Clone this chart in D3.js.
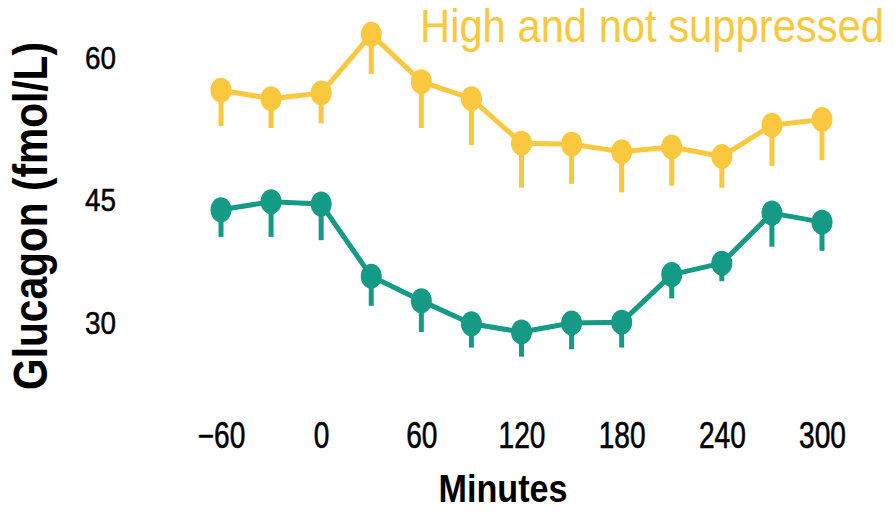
<!DOCTYPE html>
<html>
<head>
<meta charset="utf-8">
<script src="https://cdn.jsdelivr.net/npm/d3@7"></script>
<style>
  body { margin: 0; background: #fff; }
  svg { display: block; font-family: "Liberation Sans", Arial, sans-serif; }
</style>
</head>
<body>
<svg id="chart"></svg>
<script>
// minutes from start
const minutes = [-60, -30, 0, 30, 60, 90, 120, 150, 180, 210, 240, 270, 300];

// "High and not suppressed" group
const highMean = [56.6, 55.7, 56.3, 62.5, 57.5, 55.7, 51.0, 50.9, 50.1, 50.6, 49.6, 52.9, 53.5];
const highErr  = [3.8, 3.1, 3.2, 4.2, 4.9, 4.9, 4.7, 4.2, 4.3, 4.1, 3.3, 4.3, 4.3];

// other group (green)
const lowMean = [43.8, 44.8, 44.5, 35.7, 32.7, 29.9, 28.9, 30.0, 30.1, 35.9, 37.3, 43.4, 42.3];
const lowErr  = [3.3, 4.3, 4.4, 3.6, 3.8, 2.9, 3.0, 3.2, 3.1, 2.9, 2.2, 4.1, 3.5];

const xTicks = [-60, 0, 60, 120, 180, 240, 300];
const yTicks = [30, 45, 60];

const width = 895, height = 512;
const yellow = '#FAC83E';
const green = '#159A85';

const svg = d3.select('#chart')
    .attr('width', width)
    .attr('height', height);

// squeeze text horizontally, the original uses a condensed face
function condense(sel, f) {
    sel.attr('textLength', function() { return this.getComputedTextLength() * f; })
        .attr('lengthAdjust', 'spacingAndGlyphs');
}

const xScale = d3.scaleLinear()
    .domain([-60, 300])
    .range([221, 822]);

// the printed axis isn't evenly spaced, so use a piecewise scale
const yScale = d3.scaleLinear()
    .domain([30, 45, 60])
    .range([323, 200, 58]);

// x axis labels
const xAxis = d3.axisBottom(xScale)
    .tickValues(xTicks)
    .tickSize(0)
    .tickPadding(0);

svg.append('g')
    .attr('transform', 'translate(0, 448)')
    .call(xAxis)
    .call(g => g.select('.domain').remove())
    .selectAll('text')
    .attr('y', 0)
    .attr('dy', 0)
    .attr('fill', '#000')
    .attr('stroke', '#000')
    .attr('stroke-width', 0.6)
    .style('font-size', '36px')
    .style('font-family', '"Liberation Sans", Arial, sans-serif')
    .call(condense, 0.78);

// y axis labels
const yAxis = d3.axisLeft(yScale)
    .tickValues(yTicks)
    .tickSize(0)
    .tickPadding(0);

svg.append('g')
    .attr('transform', 'translate(116, 0)')
    .call(yAxis)
    .call(g => g.select('.domain').remove())
    .selectAll('text')
    .attr('fill', '#000')
    .attr('stroke', '#000')
    .attr('stroke-width', 0.5)
    .style('font-size', '32px')
    .style('font-family', '"Liberation Sans", Arial, sans-serif')
    .call(condense, 0.87);

// titles
svg.append('text')
    .attr('transform', 'translate(47, 216) rotate(-90)')
    .attr('text-anchor', 'middle')
    .style('font-size', '48px')
    .style('font-weight', 'bold')
    .text('Glucagon (fmol/L)')
    .attr('textLength', 348)
    .attr('lengthAdjust', 'spacingAndGlyphs');

svg.append('text')
    .attr('x', 503)
    .attr('y', 502)
    .attr('text-anchor', 'middle')
    .style('font-size', '38px')
    .style('font-weight', 'bold')
    .text('Minutes')
    .attr('textLength', 129)
    .attr('lengthAdjust', 'spacingAndGlyphs');

svg.append('text')
    .attr('x', 420)
    .attr('y', 42)
    .attr('fill', yellow)
    .style('font-size', '47px')
    .text('High and not suppressed')
    .attr('textLength', 464)
    .attr('lengthAdjust', 'spacingAndGlyphs');

function drawSeries(means, errs, color) {
    const pts = minutes.map((m, i) => ({ x: m, y: means[i], e: errs[i] }));

    const g = svg.append('g');

    // downward error bars only
    g.selectAll('line.err')
        .data(pts)
        .join('line')
        .attr('class', 'err')
        .attr('x1', d => xScale(d.x))
        .attr('x2', d => xScale(d.x))
        .attr('y1', d => yScale(d.y))
        .attr('y2', d => yScale(d.y - d.e))
        .attr('stroke', color)
        .attr('stroke-width', 5);

    const line = d3.line()
        .x(d => xScale(d.x))
        .y(d => yScale(d.y));

    g.append('path')
        .datum(pts)
        .attr('d', line)
        .attr('fill', 'none')
        .attr('stroke', color)
        .attr('stroke-width', 5)
        .attr('stroke-linejoin', 'round');

    g.selectAll('ellipse')
        .data(pts)
        .join('ellipse')
        .attr('cx', d => xScale(d.x))
        .attr('cy', d => yScale(d.y))
        .attr('rx', 10.5)
        .attr('ry', 12.5)
        .attr('fill', color);
}

drawSeries(highMean, highErr, yellow);
drawSeries(lowMean, lowErr, green);
</script>
</body>
</html>
